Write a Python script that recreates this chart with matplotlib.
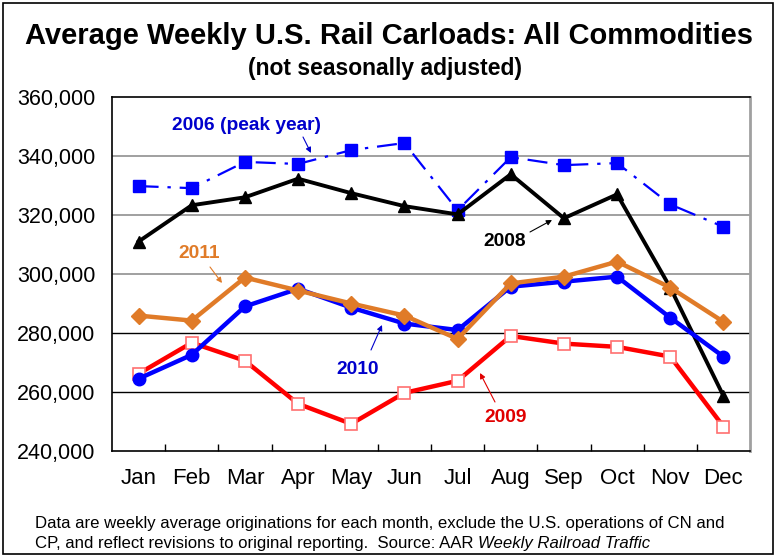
import matplotlib
matplotlib.use("Agg")
import matplotlib.pyplot as plt
from matplotlib.patches import Rectangle

plt.rcParams['font.family'] = ['Liberation Sans', 'DejaVu Sans']

months = ["Jan", "Feb", "Mar", "Apr", "May", "Jun", "Jul", "Aug", "Sep", "Oct", "Nov", "Dec"]
y2006 = [329800, 329100, 338000, 337300, 342000, 344400, 321600, 339600, 336900, 337600, 323600, 316000]
y2008 = [311000, 323300, 326000, 332300, 327400, 323000, 320200, 333800, 318900, 327000, 295400, 258700]
y2009 = [266200, 276700, 270600, 256000, 249200, 259700, 263800, 279000, 276400, 275300, 272000, 248300]
y2010 = [264500, 272600, 289000, 295000, 288600, 283200, 281000, 295700, 297400, 299100, 285200, 272000]
y2011 = [285900, 284200, 298800, 294400, 290000, 285900, 278000, 296800, 299100, 304200, 295400, 283800]
yticks = [240000, 260000, 280000, 300000, 320000, 340000, 360000]

W, H = 779, 560
fig = plt.figure(figsize=(W / 100, H / 100), dpi=100)
fig.patch.set_facecolor('white')
fig.patches.append(Rectangle((3 / W, 6 / H), 770 / W, 551 / H, transform=fig.transFigure,
                             fill=False, edgecolor='black', linewidth=1.2))

ax = fig.add_axes([112 / W, 1 - 451 / H, 638 / W, 354 / H])
x = list(range(len(months)))

ax.set_xlim(-0.5, 11.5)
ax.set_ylim(240000, 360000)

# gridlines
for v in yticks[1:-1]:
    col = '#000000' if v < 300000 else '#A0A0A0'
    lw = 1.0 if v < 300000 else 1.4
    ax.axhline(v, color=col, linewidth=lw, zorder=1)

blue = '#0000FF'
orange = '#E07B28'
red = '#FF0000'

ax.plot(x, y2006, color=blue, linewidth=1.6, linestyle=(0, (9, 4, 1.5, 4)),
        marker='s', markersize=9, markerfacecolor=blue, markeredgecolor=blue, zorder=3)
ax.plot(x, y2008, color='black', linewidth=2.8, marker='^', markersize=8,
        markerfacecolor='black', markeredgecolor='black', zorder=3)
ax.plot(x, y2009, color=red, linewidth=3.2, marker='s', markersize=8.5,
        markerfacecolor='white', markeredgecolor='#FF7070', markeredgewidth=1.2, zorder=4)
ax.plot(x, y2010, color=blue, linewidth=3.2, marker='o', markersize=9,
        markerfacecolor=blue, markeredgecolor=blue, zorder=5)
ax.plot(x, y2011, color=orange, linewidth=3.2, marker='D', markersize=8,
        markerfacecolor=orange, markeredgecolor=orange, zorder=6)

ax.set_yticks(yticks)
ax.set_yticklabels([f"{v:,}" for v in yticks], fontsize=15.5)
ax.set_xticks(x)
ax.set_xticklabels(months, fontsize=16)
ax.set_xticks([i + 0.5 for i in range(11)], minor=True)
ax.tick_params(axis='y', length=0, pad=12)
ax.tick_params(axis='x', which='major', length=0, pad=12)
ax.tick_params(axis='x', which='minor', direction='in', length=5, width=1)
for s in ['left', 'top', 'bottom']:
    ax.spines[s].set_color('black')
    ax.spines[s].set_linewidth(1.2)
ax.spines['right'].set_color('#A0A0A0')
ax.spines['right'].set_linewidth(2)

def to_data(px, py):
    inv = ax.transData.inverted()
    return inv.transform((px, H - py))

def label(text, color, pos, arrow_from, arrow_to):
    ax.text(*to_data(*pos), text, color=color, fontsize=13.8, fontweight='bold',
            ha='center', va='center', transform=ax.transData, zorder=7)
    ax.annotate('', xy=to_data(*arrow_to), xytext=to_data(*arrow_from),
                arrowprops=dict(arrowstyle='-|>', color=color, lw=0.8,
                                mutation_scale=8, shrinkA=0, shrinkB=0), zorder=7)

fig.canvas.draw()
label('2006 (peak year)', '#0000CC', (246, 125), (303, 137), (311, 153))
label('2011', orange, (199, 254), (210, 267), (222, 283))
label('2008', 'black', (505, 241), (530, 232), (552, 220))
label('2010', '#0000CC', (358, 370), (371, 350), (382, 325))
label('2009', '#E00000', (506, 418), (495, 402), (480, 373))

fig.text(389 / W, 1 - 36 / H, 'Average Weekly U.S. Rail Carloads: All Commodities',
         fontsize=21, fontweight='bold', ha='center', va='center')
fig.text(385 / W, 1 - 68 / H, '(not seasonally adjusted)',
         fontsize=16.5, fontweight='bold', ha='center', va='center')

fig.text(35 / W, 1 - 531 / H,
         'Data are weekly average originations for each month, exclude the U.S. operations of CN and',
         fontsize=12.1, ha='left', va='bottom')
t2 = fig.text(35 / W, 1 - 551 / H,
              'CP, and reflect revisions to original reporting.  Source: AAR ',
              fontsize=12.1, ha='left', va='bottom')
fig.canvas.draw()
bb = t2.get_window_extent()
fig.text(bb.x1 / W, bb.y0 / H, 'Weekly Railroad Traffic', fontsize=12.1,
         style='italic', ha='left', va='bottom')

fig.savefig('out.png', dpi=100)
